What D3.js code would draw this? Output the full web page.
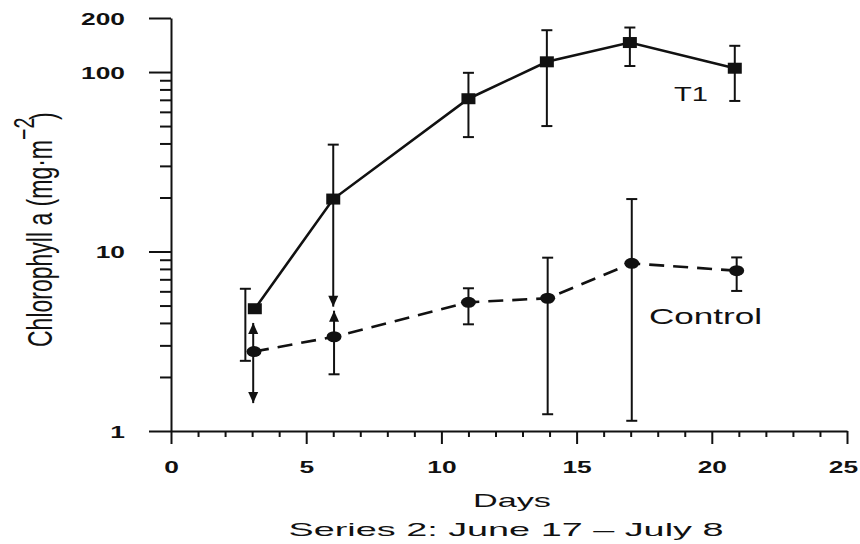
<!DOCTYPE html>
<html><head><meta charset="utf-8">
<script src="https://cdn.jsdelivr.net/npm/d3@7"></script>
<style>body{margin:0;background:#fff} svg{display:block}</style>
</head><body>
<svg id="chart" width="860" height="544"></svg>
<script>
// ---- data ----
const t1Days      = [3.1, 6.0, 11.0, 13.9, 16.97, 20.85];
const t1Values    = [4.8, 19.6, 71, 114, 146, 105];
const t1Upper     = [6.2, 39.4, 99, 171, 177, 140];
const t1Lower     = [2.46, 4.93, 43.4, 50, 108, 69];
const t1ErrDays   = [2.75, 6.0, 11.0, 13.9, 16.97, 20.85];
const t1UpArrow   = [false, false, false, false, false, false];
const t1LoArrow   = [false, true, false, false, false, false];

const ctrlDays    = [3.07, 6.03, 11.0, 13.93, 17.04, 20.92];
const ctrlValues  = [2.77, 3.35, 5.21, 5.49, 8.59, 7.82];
const ctrlUpper   = [4.0, 4.68, 6.24, 9.24, 19.6, 9.27];
const ctrlLower   = [1.43, 2.07, 3.93, 1.24, 1.14, 6.03];
const ctrlErrDays = [3.04, 6.03, 11.0, 13.93, 17.04, 20.92];
const ctrlUpArrow = [true, true, false, false, false, false];
const ctrlLoArrow = [true, false, false, false, false, false];

const xTicks = [0, 5, 10, 15, 20, 25];
const xMinorTicks = [1,2,3,4,6,7,8,9,11,12,13,14,16,17,18,19,21,22,23,24];
const yTicks = [1, 10, 100, 200];
const yMinorTicks = [2,3,4,5,6,7,8,9,20,30,40,50,60,70,80,90];
const xTitle = "Days";
const subTitle = "Series 2:  June 17  –  July 8";
const seriesNames = ["T1", "Control"];

// ---- drawing ----
const svg = d3.select("#chart");
const FONT = "'Liberation Sans', Arial, Helvetica, sans-serif";
const INK = "#111";
const x = d3.scaleLinear().domain([0, 25]).range([171, 847]);
const y = d3.scaleLog().domain([1, 200]).range([431, 18]);
const K = 1.55; // horizontal stretch of the tick lettering

function styleAxis(g) {
  g.select(".domain").attr("stroke", INK).attr("stroke-width", 2);
  g.selectAll(".tick line").attr("stroke", INK).attr("stroke-width", 2);
}

// x axis
const gxMinor = svg.append("g").attr("transform", "translate(0,431)")
  .call(d3.axisBottom(x).tickValues(xMinorTicks).tickSize(6).tickFormat(""));
gxMinor.select(".domain").remove();
styleAxis(gxMinor);
const gx = svg.append("g").attr("transform", "translate(0,431)")
  .call(d3.axisBottom(x).tickValues(xTicks).tickSize(13).tickSizeOuter(0).tickFormat(d3.format("d")));
styleAxis(gx);
gx.selectAll(".tick text")
  .attr("x", d => (d === 25 ? -4 : 0) / K).attr("y", 42).attr("dy", 0)
  .attr("transform", `scale(${K},1)`)
  .attr("font-family", FONT).attr("font-size", 17).attr("font-weight", "bold").attr("fill", INK);

// y axis
const gyMinor = svg.append("g").attr("transform", "translate(171,0)")
  .call(d3.axisLeft(y).tickValues(yMinorTicks).tickSize(11).tickFormat(""));
gyMinor.select(".domain").remove();
styleAxis(gyMinor);
const gy = svg.append("g").attr("transform", "translate(171,0)")
  .call(d3.axisLeft(y).tickValues(yTicks).tickSize(22).tickSizeOuter(0).tickFormat(d3.format("d")));
styleAxis(gy);
gy.selectAll(".tick text")
  .attr("x", -46 / K).attr("dy", "0.36em")
  .attr("transform", `scale(${K},1)`)
  .attr("font-family", FONT).attr("font-size", 17).attr("font-weight", "bold").attr("fill", INK);

// lines
const lineGen = d3.line().x(d => x(d[0])).y(d => y(d[1]));
svg.append("path").datum(d3.zip(t1Days, t1Values)).attr("d", lineGen)
  .attr("fill", "none").attr("stroke", INK).attr("stroke-width", 2.6);
svg.append("path").datum(d3.zip(ctrlDays, ctrlValues)).attr("d", lineGen)
  .attr("fill", "none").attr("stroke", INK).attr("stroke-width", 2.6)
  .attr("stroke-dasharray", "15,9");

// error bars
function drawErr(days, up, lo, upA, loA) {
  const g = svg.append("g");
  const rows = days.map((d, i) => ({ d, up: up[i], lo: lo[i], upA: upA[i], loA: loA[i] }));
  rows.forEach(r => {
    const cx = x(r.d), yu = y(r.up), yl = y(r.lo);
    g.append("line").attr("x1", cx).attr("x2", cx).attr("y1", yu).attr("y2", yl)
      .attr("stroke", INK).attr("stroke-width", 2);
    [[yu, r.upA, 1], [yl, r.loA, -1]].forEach(([yy, isArrow, s]) => {
      if (isArrow) {
        g.append("path")
          .attr("d", `M${cx},${yy} L${cx - 5},${yy + 11 * s} L${cx + 5},${yy + 11 * s} Z`)
          .attr("fill", INK);
      } else {
        g.append("line").attr("x1", cx - 5.5).attr("x2", cx + 5.5).attr("y1", yy).attr("y2", yy)
          .attr("stroke", INK).attr("stroke-width", 2);
      }
    });
  });
}
drawErr(t1ErrDays, t1Upper, t1Lower, t1UpArrow, t1LoArrow);
drawErr(ctrlErrDays, ctrlUpper, ctrlLower, ctrlUpArrow, ctrlLoArrow);

// markers
svg.append("g").selectAll("rect").data(d3.zip(t1Days, t1Values)).join("rect")
  .attr("x", d => x(d[0]) - 7).attr("y", d => y(d[1]) - 5.5)
  .attr("width", 14).attr("height", 11).attr("fill", INK);
svg.append("g").selectAll("ellipse").data(d3.zip(ctrlDays, ctrlValues)).join("ellipse")
  .attr("cx", d => x(d[0])).attr("cy", d => y(d[1]))
  .attr("rx", 7.5).attr("ry", 5.5).attr("fill", INK);

// series labels
svg.append("text").text(seriesNames[0])
  .attr("x", 674).attr("y", 100.5)
  .attr("font-family", FONT).attr("font-size", 21).attr("fill", INK)
  .attr("textLength", 34).attr("lengthAdjust", "spacingAndGlyphs");
svg.append("text").text(seriesNames[1])
  .attr("x", 649).attr("y", 324)
  .attr("font-family", FONT).attr("font-size", 22).attr("fill", INK)
  .attr("textLength", 113).attr("lengthAdjust", "spacingAndGlyphs");

// axis titles
svg.append("text").text(xTitle)
  .attr("x", 512).attr("y", 507).attr("text-anchor", "middle")
  .attr("font-family", FONT).attr("font-size", 18.5).attr("fill", INK)
  .attr("textLength", 78).attr("lengthAdjust", "spacingAndGlyphs");
svg.append("text").text(subTitle)
  .attr("x", 506).attr("y", 536).attr("text-anchor", "middle")
  .attr("font-family", FONT).attr("font-size", 18.5).attr("fill", INK)
  .attr("textLength", 435).attr("lengthAdjust", "spacingAndGlyphs");

// y title (rotated, stretched across)
const yg = svg.append("g").attr("transform", "translate(52,347) rotate(-90)");
const yt = yg.append("text")
  .attr("font-family", FONT).attr("font-size", 20).attr("fill", INK);
yt.append("tspan").text("Chlorophyll a (mg·m");
yt.append("tspan").text("−2").attr("dy", "-0.6em").attr("font-size", 17);
yt.append("tspan").text(")").attr("dy", "0.6em").attr("dx", -2);
const ylen = yt.node().getComputedTextLength();
yt.attr("transform", `scale(${237 / ylen},1.75)`);
</script>
</body></html>
